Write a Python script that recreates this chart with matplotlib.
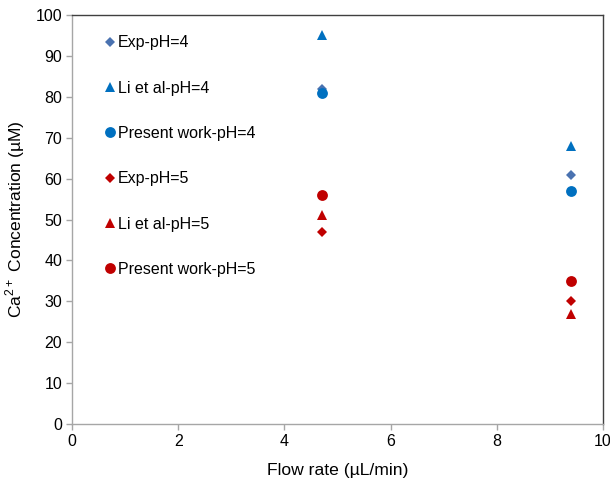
import matplotlib
matplotlib.use("Agg")
import matplotlib.pyplot as plt

plt.rcParams['font.family'] = ['Liberation Sans', 'DejaVu Sans']

flow_rate = [4.7, 9.4]
exp_ph4 = [82, 61]
li_ph4 = [95, 68]
present_ph4 = [81, 57]
exp_ph5 = [47, 30]
li_ph5 = [51, 27]
present_ph5 = [56, 35]

series = [
    ("Exp-pH=4", exp_ph4, "D", "#4A72B0", 5.0),
    ("Li et al-pH=4", li_ph4, "^", "#0070C0", 7.8),
    ("Present work-pH=4", present_ph4, "o", "#0070C0", 7.8),
    ("Exp-pH=5", exp_ph5, "D", "#C00000", 5.0),
    ("Li et al-pH=5", li_ph5, "^", "#C00000", 7.8),
    ("Present work-pH=5", present_ph5, "o", "#C00000", 7.8),
]

fig = plt.figure(figsize=(6.10, 4.84), dpi=100)
ax = fig.add_axes([72 / 610, 60 / 484, 531 / 610, 409 / 484])

for label, vals, marker, color, ms in series:
    ax.plot(flow_rate, vals, linestyle="none", marker=marker, color=color,
            markersize=ms, markeredgewidth=0, label=label)

ax.set_xlim(0, 10)
ax.set_ylim(0, 100)
ax.set_xticks(range(0, 11, 2))
ax.set_yticks(range(0, 101, 10))

for side in ("left", "bottom"):
    ax.spines[side].set_color("#A6A6A6")
    ax.spines[side].set_linewidth(1.0)
for side in ("top", "right"):
    ax.spines[side].set_color("#404040")
    ax.spines[side].set_linewidth(1.0)

ax.tick_params(axis="both", direction="out", length=4, width=1.0,
               color="#A6A6A6", labelsize=11.5, labelcolor="#000000", pad=3)

ax.set_xlabel("Flow rate (µL/min)", fontsize=12.6, labelpad=10)
ax.set_ylabel(r"Ca$^{\mathregular{2+}}$ Concentration (µM)", fontsize=12.6, labelpad=6)

leg = ax.legend(loc="upper left", bbox_to_anchor=(0.051, 0.966), frameon=False,
                fontsize=11.5, handlelength=0.6, handletextpad=0.2,
                labelspacing=1.9, borderaxespad=0, numpoints=1)

fig.savefig("out.png", dpi=100)
